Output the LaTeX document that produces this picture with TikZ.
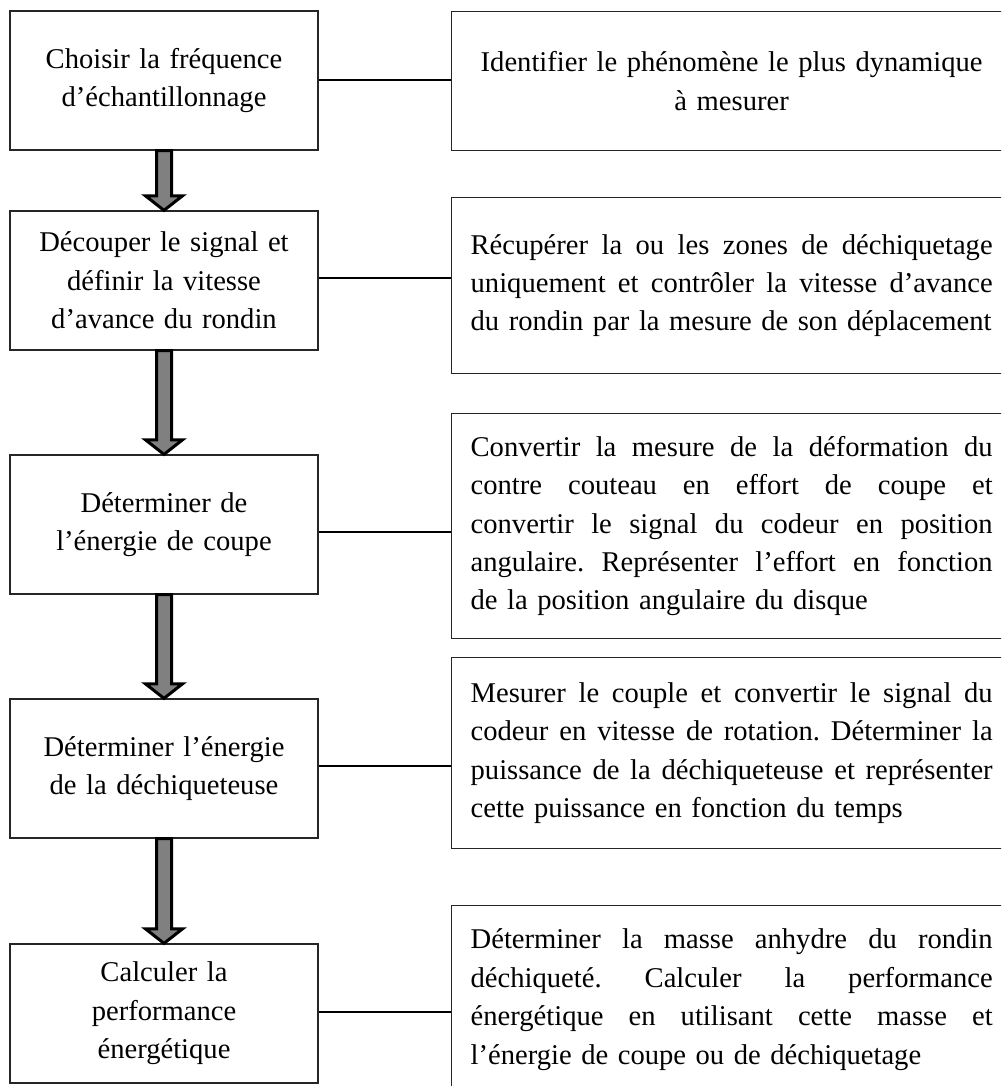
\documentclass[tikz,border=0pt]{standalone}
\usepackage{fontspec}
\setmainfont{Liberation Serif}
\usetikzlibrary{calc}
\newcommand{\jl}[1]{\leavevmode\hbox to 522pt{\spaceskip=0.25em plus 1fil\relax\xspaceskip=0.25em plus 1fil\relax #1}}
\newcommand{\cl}[1]{\leavevmode\hbox to 522pt{\hfil #1\hfil}}
\tikzset{
  txt/.style={font=\fontsize{28.6}{38.4}\selectfont},
  lbox/.style={txt, draw=black!85, line width=1.3pt, minimum width=308pt,
    minimum height=139pt, text width=290pt, align=center, inner sep=0pt},
  rbox/.style={txt, draw=black!85, line width=1.3pt, text width=530pt,
    inner xsep=19pt, inner ysep=0pt, align=left, anchor=north west},
  link/.style={line width=2pt},
  bigarrow/.style={draw=black, line width=3pt, fill=black!50, line join=miter}
}
\begin{document}
\begin{tikzpicture}[x=1pt,y=-1pt]
\useasboundingbox (0,0) rectangle (1001,1086);
\clip (0,0) rectangle (1001,1086);

% left column
\node[lbox] (L1) at (164,80.5) {Choisir la fréquence\\d’échantillonnage};
\node[lbox] (L2) at (164,280.5) {Découper le signal et\\définir la vitesse\\d’avance du rondin};
\node[lbox] (L3) at (164,524.5) {Déterminer de\\l’énergie de coupe};
\node[lbox] (L4) at (164,768.5) {Déterminer l’énergie\\de la déchiqueteuse};
\node[lbox] (L5) at (164,1013.5) {Calculer la\\performance\\énergétique};

% right column
\node[rbox, minimum height=139pt] (R1) at (451,11)
  {\cl{Identifier le phénomène le plus dynamique}\\\cl{à mesurer}};
\node[rbox, minimum height=176pt] (R2) at (451,197)
  {\jl{Récupérer la ou les zones de déchiquetage}\\
   \jl{uniquement et contrôler la vitesse d’avance}\\
   du rondin par la mesure de son déplacement};
\node[rbox, minimum height=225pt] (R3) at (451,413)
  {\jl{Convertir la mesure de la déformation du}\\
   \jl{contre couteau en effort de coupe et}\\
   \jl{convertir le signal du codeur en position}\\
   \jl{angulaire. Représenter l’effort en fonction}\\
   de la position angulaire du disque};
\node[rbox, minimum height=191pt] (R4) at (451,657)
  {\jl{Mesurer le couple et convertir le signal du}\\
   \jl{codeur en vitesse de rotation. Déterminer la}\\
   \jl{puissance de la déchiqueteuse et représenter}\\
   cette puissance en fonction du temps};
\node[rbox, minimum height=188pt] (R5) at (451,905)
  {\jl{Déterminer la masse anhydre du rondin}\\
   \jl{déchiqueté. Calculer la performance}\\
   \jl{énergétique en utilisant cette masse et}\\
   l’énergie de coupe ou de déchiquetage};

% connectors
\draw[link] (L1.east) -- (L1.east -| R1.west);
\draw[link] ([yshift=3pt]L2.east) -- ([yshift=3pt]L2.east -| R2.west);
\draw[link] ([yshift=-7pt]L3.east) -- ([yshift=-7pt]L3.east -| R3.west);
\draw[link] ([yshift=2.5pt]L4.east) -- ([yshift=2.5pt]L4.east -| R4.west);
\draw[link] ([yshift=2pt]L5.east) -- ([yshift=2pt]L5.east -| R5.west);

% block arrows
\foreach \a/\b in {L1/L2, L2/L3, L3/L4, L4/L5}{
  \draw[bigarrow] let \p1=(\a.south), \p2=(\b.north) in
    (\x1-7.5pt,\y1) -- (\x1-7.5pt,\y2+14.5pt) -- (\x1-18.5pt,\y2+14.5pt)
    -- (\x1,\y2) -- (\x1+18.5pt,\y2+14.5pt) -- (\x1+7.5pt,\y2+14.5pt)
    -- (\x1+7.5pt,\y1) -- cycle;
}
\end{tikzpicture}
\end{document}
